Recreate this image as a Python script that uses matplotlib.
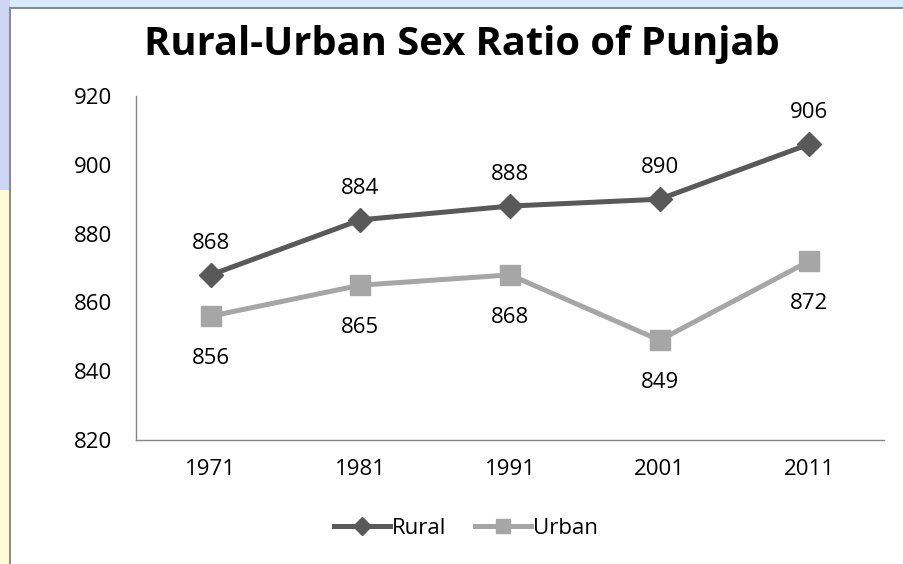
"""Rural-Urban sex ratio of Punjab, census years 1971-2011."""

import matplotlib.pyplot as plt
from matplotlib.patches import Rectangle

years = ["1971", "1981", "1991", "2001", "2011"]
rural = [868, 884, 888, 890, 906]
urban = [856, 865, 868, 849, 872]
y_ticks = [820, 840, 860, 880, 900, 920]

plt.rcParams["font.family"] = ["Open Sans", "DejaVu Sans"]

W, H = 904, 564
fig = plt.figure(figsize=(W / 100, H / 100), dpi=100)
fig.patch.set_facecolor("white")

# slide background peeking out on the left and top edges
fig.patches.append(Rectangle((0, 1 - 8 / H), 1, 8 / H, transform=fig.transFigure,
                             facecolor="#d8ecfb", edgecolor="none", zorder=-3))
fig.patches.append(Rectangle((0, 1 - 190 / H), 10 / W, 190 / H, transform=fig.transFigure,
                             facecolor="#cfd6f5", edgecolor="none", zorder=-3))
fig.patches.append(Rectangle((0, 0), 10 / W, 1 - 190 / H, transform=fig.transFigure,
                             facecolor="#fffbd8", edgecolor="none", zorder=-3))
fig.patches.append(Rectangle((10 / W, -0.01), 1.1, 1 - 8 / H + 0.01, transform=fig.transFigure,
                             facecolor="white", edgecolor="#8c8c8c", linewidth=1.5, zorder=-2))

ax = fig.add_axes([136 / W, 1 - 440 / H, (884 - 136) / W, (440 - 96) / H])
ax.set_facecolor("none")
x = list(range(len(years)))

ax.plot(x, rural, color="#595959", linewidth=3.6, marker="D", markersize=12,
        label="Rural", zorder=3)
ax.plot(x, urban, color="#a6a6a6", linewidth=3.6, marker="s", markersize=14,
        label="Urban", zorder=3)

for xi, v in zip(x, rural):
    ax.annotate(str(v), (xi, v), xytext=(0, 15), textcoords="offset points",
                ha="center", va="bottom", fontsize=16)
for xi, v in zip(x, urban):
    ax.annotate(str(v), (xi, v), xytext=(0, -23), textcoords="offset points",
                ha="center", va="top", fontsize=16)

ax.set_xlim(-0.5, 4.5)
ax.set_ylim(820, 920)
ax.set_xticks(x)
ax.set_xticklabels(years)
ax.set_yticks(y_ticks)
ax.tick_params(length=0, labelsize=16, pad=17)
ax.tick_params(axis="x", pad=14)
for side in ["top", "right"]:
    ax.spines[side].set_visible(False)
for side in ["left", "bottom"]:
    ax.spines[side].set_color("#868686")
    ax.spines[side].set_linewidth(1)

fig.text(462 / W, 1 - 45 / H, "Rural-Urban Sex Ratio of Punjab", ha="center", va="center",
         fontsize=28.7, fontweight="bold")

ax.legend(loc="center", bbox_to_anchor=(466 / W, 1 - 528 / H), bbox_transform=fig.transFigure,
          ncol=2, frameon=False, fontsize=16, handlelength=2.5, columnspacing=1.3,
          handletextpad=0.1, markerscale=0.75)

fig.savefig("out.png", dpi=100)
